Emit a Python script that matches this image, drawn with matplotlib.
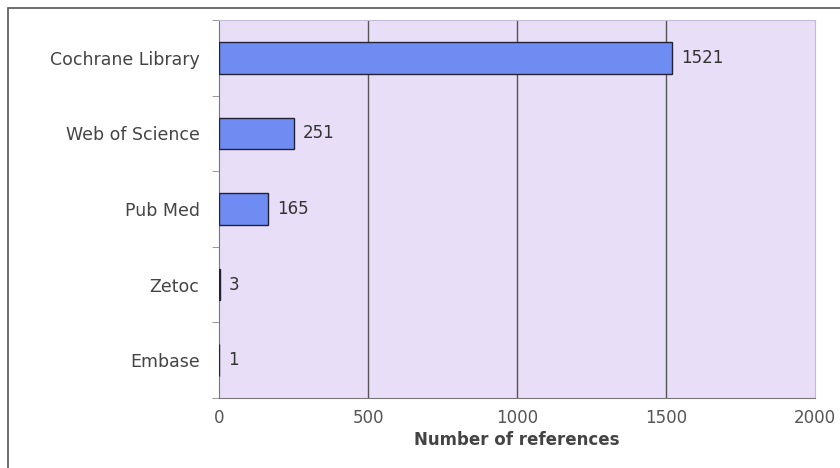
import matplotlib.pyplot as plt
import matplotlib.patches as patches
import numpy as np

# data
sources = ['Cochrane Library', 'Web of Science', 'Pub Med', 'Zetoc', 'Embase']
counts = [1521, 251, 165, 3, 1]
xticks = [0, 500, 1000, 1500, 2000]

plt.rcParams['font.family'] = ['DejaVu Sans']

fig = plt.figure(figsize=(8.4, 4.68), dpi=100)
fig.patch.set_facecolor('white')

# outer chart frame
fig.add_artist(patches.Rectangle((8 / 840, -0.05), 1.0, 1 - 8 / 468 + 0.05,
                                 transform=fig.transFigure, fill=False,
                                 edgecolor='#555555', linewidth=1.2))

ax = fig.add_axes([219 / 840, 1 - 398 / 468, (815 - 219) / 840, (398 - 20) / 468])
ax.set_facecolor('#e9def7')

y = np.arange(len(sources))
ax.barh(y, counts, height=0.42, color='#6e8cf2', edgecolor='#222233',
        linewidth=1.0, zorder=3)

for yi, c in zip(y, counts):
    ax.text(c + 30, yi, str(c), va='center', ha='left', fontsize=12,
            color='#333333', zorder=4)

ax.set_xlim(0, 2000)
ax.set_ylim(len(sources) - 0.5, -0.5)
ax.set_xticks(xticks)
ax.set_xticklabels([str(t) for t in xticks], color='#555555', fontsize=12)
ax.set_yticks(y)
ax.set_yticklabels(sources, color='#444444', fontsize=12.5)
ax.tick_params(axis='y', length=0, pad=14)
ax.tick_params(axis='x', length=0, pad=8)
ax.set_yticks(np.arange(-0.5, len(sources), 1), minor=True)
ax.tick_params(axis='y', which='minor', length=5, color='#888888', direction='out')

for gx in xticks[1:-1]:
    ax.axvline(gx, color='#555555', linewidth=1.0, zorder=1)

for side in ['top', 'right']:
    ax.spines[side].set_color('#c4bcd4')
ax.spines['left'].set_color('#777777')
ax.spines['bottom'].set_color('#777777')

ax.set_xlabel('Number of references', fontsize=12, fontweight='bold',
              color='#444444', labelpad=3)

fig.savefig('out.png', dpi=100)
